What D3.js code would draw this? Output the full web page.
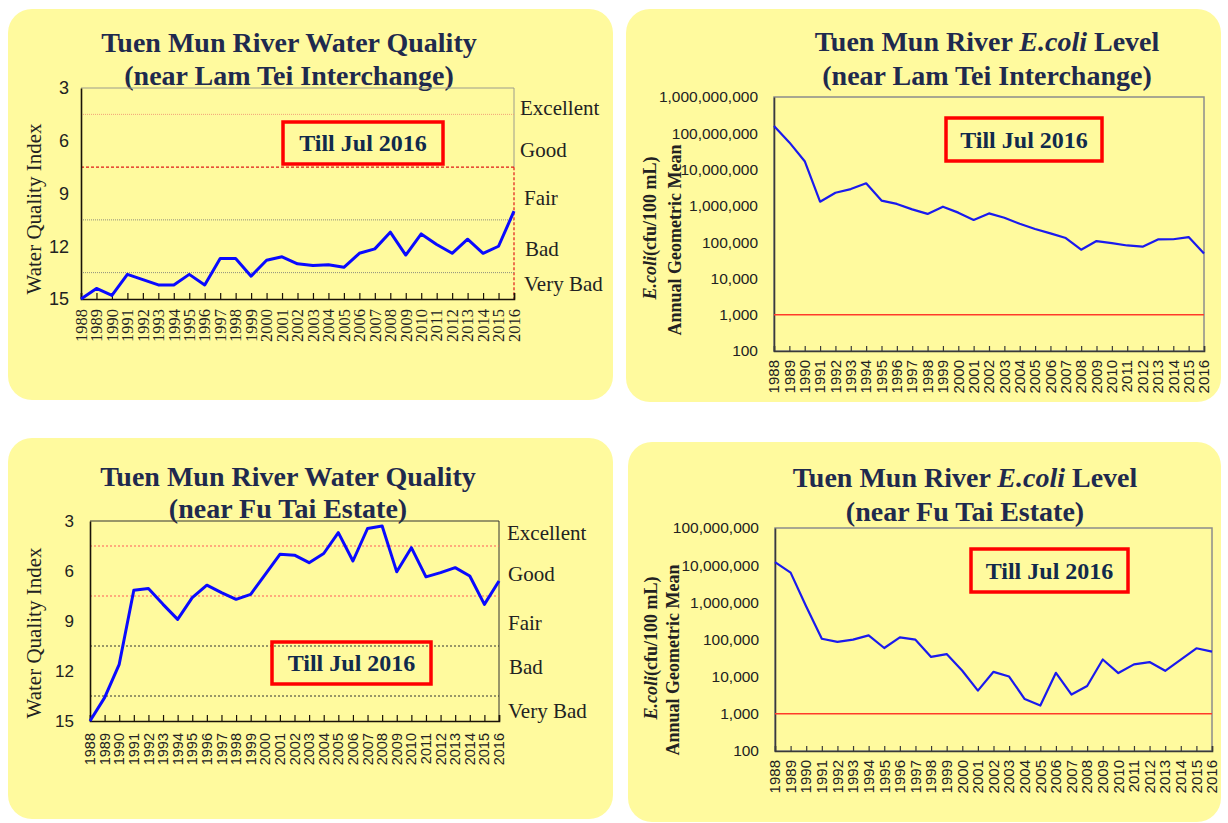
<!DOCTYPE html>
<html><head><meta charset="utf-8">
<script src="https://cdn.jsdelivr.net/npm/d3@7"></script>
<style>body{margin:0;background:#fff}svg{display:block}</style>
</head><body>
<svg id="c" width="1228" height="823"></svg>
<script>
// ---------- DATA ----------
const years = ["1988","1989","1990","1991","1992","1993","1994","1995","1996","1997",
  "1998","1999","2000","2001","2002","2003","2004","2005","2006","2007",
  "2008","2009","2010","2011","2012","2013","2014","2015","2016"];

const wqiLamTei = [15, 14.4, 14.8, 13.6, 13.9, 14.2, 14.2, 13.6, 14.2, 12.7,
  12.7, 13.7, 12.8, 12.6, 13.0, 13.1, 13.05, 13.2, 12.4, 12.15,
  11.2, 12.5, 11.3, 11.9, 12.4, 11.6, 12.4, 12.0, 10.0];

const wqiFuTai = [15, 13.6, 11.6, 7.15, 7.05, 8.0, 8.9, 7.6, 6.85, 7.3,
  7.7, 7.4, 6.2, 5.0, 5.05, 5.5, 4.95, 3.7, 5.4, 3.45,
  3.3, 6.05, 4.6, 6.35, 6.1, 5.8, 6.3, 8.0, 6.6];

const ecoliLamTei = [160000000, 56000000, 17000000, 1300000, 2300000, 2900000, 4200000, 1400000, 1130000, 800000,
  600000, 950000, 650000, 410000, 620000, 470000, 320000, 230000, 175000, 130000,
  62000, 107000, 94000, 81000, 75000, 119000, 120000, 138000, 49000];

const ecoliFuTai = [12100000, 6300000, 770000, 105000, 86000, 99000, 129000, 59000, 114000, 99000,
  34000, 40600, 14400, 4200, 13500, 10100, 2500, 1670, 12700, 3300,
  5600, 29000, 12500, 21400, 24700, 14400, 28600, 58000, 47000];

const wqiTicks = [3, 6, 9, 12, 15];
const wqiClassBounds = [4.5, 7.5, 10.5, 13.5];
const wqiGrades = ["Excellent", "Good", "Fair", "Bad", "Very Bad"];
const ecoliTicksLamTei = [100, 1000, 10000, 100000, 1000000, 10000000, 100000000, 1000000000];
const ecoliTicksFuTai = [100, 1000, 10000, 100000, 1000000, 10000000, 100000000];
const ecoliStandard = 1000;
const noteText = "Till Jul 2016";

// ---------- DRAWING ----------
const svg = d3.select("#c");
const SERIF = "'Liberation Serif','Times New Roman',serif";
const SANS = "'Liberation Sans',Arial,sans-serif";
const NAVY = "#1f2a4e";
const BG = "#fffa9e";

function panel(x, y, w, h) {
  svg.append("rect").attr("x", x).attr("y", y).attr("width", w).attr("height", h)
    .attr("rx", 24).attr("ry", 24).attr("fill", BG);
}
panel(8, 9, 605, 391);
panel(626, 9, 595, 393);
panel(8, 438, 605, 381);
panel(628, 442, 593, 380);

function noteBox(b) {
  svg.append("rect").attr("x", b[0]).attr("y", b[1]).attr("width", b[2] - b[0]).attr("height", b[3] - b[1])
    .attr("fill", "none").attr("stroke", "#ff0000").attr("stroke-width", 3.5);
  svg.append("text").attr("x", (b[0] + b[2]) / 2).attr("y", (b[1] + b[3]) / 2).attr("dy", "0.35em")
    .attr("text-anchor", "middle").attr("font-family", SERIF).attr("font-weight", "bold")
    .attr("font-size", 24).attr("fill", "#112a4c").text(noteText);
}

function title(cx, y1, y2, line1parts, line2) {
  const t = svg.append("text").attr("x", cx).attr("y", y1).attr("text-anchor", "middle")
    .attr("font-family", SERIF).attr("font-weight", "bold").attr("font-size", 28).attr("fill", NAVY);
  line1parts.forEach(p => t.append("tspan").attr("font-style", p[1] ? "italic" : "normal").text(p[0]));
  svg.append("text").attr("x", cx).attr("y", y2).attr("text-anchor", "middle")
    .attr("font-family", SERIF).attr("font-weight", "bold").attr("font-size", 28).attr("fill", NAVY)
    .text(line2);
}

function wqiChart(c) {
  const g = svg.append("g");
  const x = d3.scalePoint().domain(years).range([c.l, c.r]);
  const y = d3.scaleLinear().domain([3, 15]).range([c.t, c.b]);

  if (c.style === 1) {
    g.append("line").attr("x1", c.l).attr("x2", c.r).attr("y1", y(3)).attr("y2", y(3))
      .attr("stroke", "#9c9c8c").attr("stroke-width", 1);
    g.append("line").attr("x1", c.r).attr("x2", c.r).attr("y1", y(3)).attr("y2", y(7.5))
      .attr("stroke", "#9c9c8c").attr("stroke-width", 1);
    g.append("line").attr("x1", c.r).attr("x2", c.r).attr("y1", y(7.5)).attr("y2", y(15))
      .attr("stroke", "#e01818").attr("stroke-width", 1.2).attr("stroke-dasharray", "3,2");
    const st = [
      {c: "#f2a27a", d: "1,1", w: 1},
      {c: "#e01818", d: "3,2", w: 1.2},
      {c: "#8c8c7c", d: "1,1", w: 1},
      {c: "#8c8c7c", d: "1,1", w: 1}];
    wqiClassBounds.forEach((v, i) => g.append("line").attr("x1", c.l).attr("x2", c.r)
      .attr("y1", y(v)).attr("y2", y(v)).attr("stroke", st[i].c).attr("stroke-width", st[i].w)
      .attr("stroke-dasharray", st[i].d));
  } else {
    g.append("line").attr("x1", c.l).attr("x2", c.r).attr("y1", y(3)).attr("y2", y(3))
      .attr("stroke", "#333").attr("stroke-width", 1);
    g.append("line").attr("x1", c.r).attr("x2", c.r).attr("y1", y(3)).attr("y2", y(15))
      .attr("stroke", "#333").attr("stroke-width", 1);
    const st = ["#ff5a5a", "#ff5a5a", "#333", "#333"];
    wqiClassBounds.forEach((v, i) => g.append("line").attr("x1", c.l).attr("x2", c.r)
      .attr("y1", y(v)).attr("y2", y(v)).attr("stroke", st[i]).attr("stroke-width", 1)
      .attr("stroke-dasharray", "2,2"));
  }

  const ya = g.append("g").attr("transform", `translate(${c.l},0)`)
    .call(d3.axisLeft(y).tickValues(wqiTicks).tickSize(0).tickPadding(c.tickPad));
  ya.select(".domain").attr("stroke", "#1a1208").attr("stroke-width", 1.6);
  ya.selectAll("text").attr("font-family", SANS).attr("font-size", c.tickFont).attr("fill", "#222");

  const xa = g.append("g").attr("transform", `translate(0,${c.b})`)
    .call(d3.axisBottom(x).tickSize(-6).tickFormat(""));
  xa.select(".domain").attr("stroke", "#1a1208").attr("stroke-width", 1.6);
  xa.selectAll(".tick line").attr("stroke", "#1a1208").attr("stroke-width", 1.2);

  g.selectAll(".yr").data(years).join("text")
    .attr("transform", d => `translate(${x(d)},${c.b + c.yrPad}) rotate(-90)`)
    .attr("dy", "0.35em").attr("text-anchor", "end")
    .attr("font-family", c.yrFamily).attr("font-size", c.yrFont).attr("fill", "#222").text(d => d);

  g.append("path").datum(c.data)
    .attr("d", d3.line().x((d, i) => x(years[i])).y(d => y(d)))
    .attr("fill", "none").attr("stroke", "#0a0aff").attr("stroke-width", 3).attr("stroke-linejoin", "round");

  wqiGrades.forEach((gname, i) => g.append("text").attr("x", c.gradeX[i]).attr("y", y(c.gradeV[i]))
    .attr("dy", "0.35em").attr("font-family", SERIF).attr("font-size", 21).attr("fill", "#222").text(gname));

  g.append("text").attr("transform", `translate(${c.ytX},${c.ytY}) rotate(-90)`)
    .attr("text-anchor", "middle").attr("dy", "0.35em")
    .attr("font-family", SERIF).attr("font-size", 21).attr("fill", "#222").text("Water Quality Index");

  noteBox(c.box);
}

function ecoliChart(c) {
  const g = svg.append("g");
  const x = d3.scalePoint().domain(years).range([c.l, c.r]);
  const y = d3.scaleLog().domain([c.ticks[0], c.ticks[c.ticks.length - 1]]).range([c.b, c.t]);

  g.append("rect").attr("x", c.l).attr("y", c.t).attr("width", c.r - c.l).attr("height", c.b - c.t)
    .attr("fill", "none").attr("stroke", "#8c8c8c").attr("stroke-width", 1.5);

  const ya = g.append("g").attr("transform", `translate(${c.l},0)`)
    .call(d3.axisLeft(y).tickValues(c.ticks).tickFormat(d3.format(",")).tickSize(0).tickPadding(16));
  ya.select(".domain").attr("stroke", "#3a3a3a").attr("stroke-width", 1.6);
  ya.selectAll("text").attr("font-family", SANS).attr("font-size", 15.5).attr("fill", "#222");

  const xa = g.append("g").attr("transform", `translate(0,${c.b})`)
    .call(d3.axisBottom(x).tickSize(-5).tickFormat(""));
  xa.select(".domain").attr("stroke", "#3a3a3a").attr("stroke-width", 1.6);
  xa.selectAll(".tick line").attr("stroke", "#3a3a3a").attr("stroke-width", 1.2);

  g.selectAll(".yr").data(years).join("text")
    .attr("transform", d => `translate(${x(d)},${c.b + 9}) rotate(-90)`)
    .attr("dy", "0.35em").attr("text-anchor", "end")
    .attr("font-family", SANS).attr("font-size", 15).attr("fill", "#222").text(d => d);

  g.append("line").attr("x1", c.l).attr("x2", c.r).attr("y1", y(ecoliStandard)).attr("y2", y(ecoliStandard))
    .attr("stroke", "#ff3a2a").attr("stroke-width", 1.5);

  g.append("path").datum(c.data)
    .attr("d", d3.line().x((d, i) => x(years[i])).y(d => y(d)))
    .attr("fill", "none").attr("stroke", "#1a1aee").attr("stroke-width", 2.2).attr("stroke-linejoin", "round");

  const t1 = g.append("text").attr("transform", `translate(${c.yt1[0]},${c.yt1[1]}) rotate(-90)`)
    .attr("text-anchor", "middle").attr("dy", "0.35em")
    .attr("font-family", SERIF).attr("font-weight", "bold").attr("font-size", 18).attr("fill", "#222");
  t1.append("tspan").attr("font-style", "italic").text("E.coli");
  t1.append("tspan").text("(cfu/100 mL)");
  g.append("text").attr("transform", `translate(${c.yt2[0]},${c.yt2[1]}) rotate(-90)`)
    .attr("text-anchor", "middle").attr("dy", "0.35em")
    .attr("font-family", SERIF).attr("font-weight", "bold").attr("font-size", 18).attr("fill", "#222")
    .text("Annual Geometric Mean");

  noteBox(c.box);
}

// Panel 1
title(289, 52, 85, [["Tuen Mun River Water Quality", false]], "(near Lam Tei Interchange)");
wqiChart({l: 81, r: 514, t: 88, b: 299, data: wqiLamTei, style: 1, tickPad: 12, tickFont: 18,
  yrPad: 10, yrFamily: SERIF, yrFont: 16.5,
  gradeX: [520, 520, 524, 525, 524], gradeV: [4.1, 6.5, 9.25, 12.15, 14.1],
  ytX: 34, ytY: 209, box: [283, 122, 443, 164]});

// Panel 2
title(987, 51, 85, [["Tuen Mun River ", false], ["E.coli", true], [" Level", false]], "(near Lam Tei Interchange)");
ecoliChart({l: 774, r: 1204, t: 97, b: 351, data: ecoliLamTei, ticks: ecoliTicksLamTei,
  yt1: [650, 228], yt2: [675, 240], box: [946, 118, 1102, 161]});

// Panel 3
title(288, 486, 518, [["Tuen Mun River Water Quality", false]], "(near Fu Tai Estate)");
wqiChart({l: 90, r: 499, t: 521, b: 721, data: wqiFuTai, style: 2, tickPad: 16, tickFont: 17,
  yrPad: 12, yrFamily: SANS, yrFont: 14.5,
  gradeX: [507, 508, 508, 509, 508], gradeV: [3.72, 6.18, 9.12, 11.76, 14.4],
  ytX: 34, ytY: 633, box: [272, 642, 431, 684]});

// Panel 4
title(965, 487, 521, [["Tuen Mun River ", false], ["E.coli", true], [" Level", false]], "(near Fu Tai Estate)");
ecoliChart({l: 775, r: 1212, t: 528, b: 751, data: ecoliFuTai, ticks: ecoliTicksFuTai,
  yt1: [651, 648], yt2: [673, 660], box: [971, 549, 1128, 592]});
</script>
</body></html>
